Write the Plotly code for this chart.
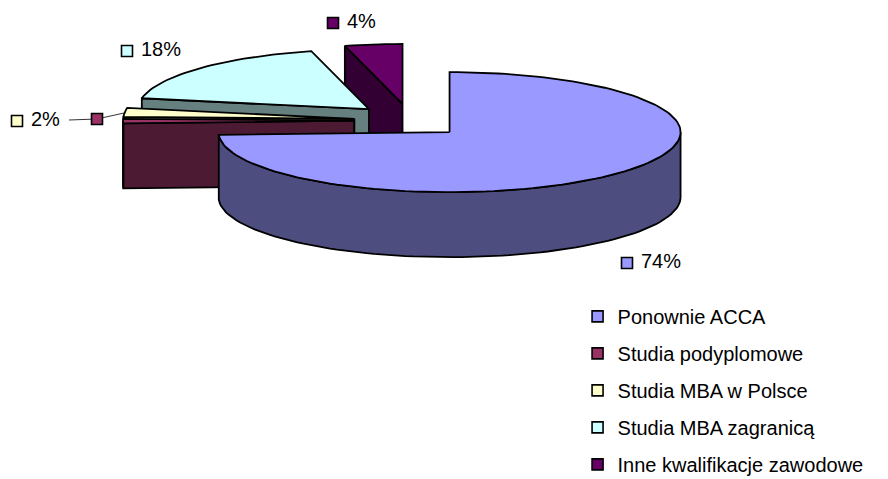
import math
import plotly.graph_objects as go

categories = ["Ponownie ACCA", "Studia podyplomowe", "Studia MBA w Polsce", "Studia MBA zagranicą", "Inne kwalifikacje zawodowe"]
values = [74, 1.2, 2.4, 18, 4]
labels = ["74%", "", "2%", "18%", "4%"]
top_colors = ["#9999FF", "#993366", "#FFFFCC", "#CCFFFF", "#660066"]
side_colors = ["#4D4D80", "#4D1A33", "#808066", "#668080", "#330033"]
label_pos = [(627, 263), (97, 119), (17, 121), (127, 51), (333, 23)]

CX, CY, RX, RY, DEPTH = 409.5, 120.6, 231, 60, 65
EX, EY = 0.24, 0.279
OFF = 8  # page margin: axes are shifted so that coordinates read as page pixels
FONT = "Liberation Sans"

fig = go.Figure()


def pt(ax, ay, a):
    t = math.radians(a)
    return ax + RX * math.sin(t), ay - RY * math.cos(t)


def poly(pts, color):
    fig.add_trace(go.Scatter(
        x=[p[0] for p in pts] + [pts[0][0]], y=[p[1] for p in pts] + [pts[0][1]],
        mode="lines", fill="toself", fillcolor=color,
        line=dict(color="black", width=1.8), showlegend=False, hoverinfo="skip"))


total = sum(values)
slices = []
start = 0.0
for i, v in enumerate(values):
    end = start + v / total * 360
    slices.append((i, start, end))
    start = end

# painted back to front
for i, a0, a1 in reversed(slices):
    mid = math.radians((a0 + a1) / 2)
    ax = CX + EX * RX * math.sin(mid)
    ay = CY - EY * RY * math.cos(mid)
    steps = max(3, int((a1 - a0) / 2))
    arc = [a0 + (a1 - a0) * k / steps for k in range(steps + 1)]
    e0, e1 = pt(ax, ay, a0), pt(ax, ay, a1)
    # radial walls that face the viewer
    if math.sin(math.radians(a0)) < -1e-6:
        poly([(ax, ay), e0, (e0[0], e0[1] + DEPTH), (ax, ay + DEPTH)], side_colors[i])
    if math.sin(math.radians(a1)) > 1e-6:
        poly([(ax, ay), e1, (e1[0], e1[1] + DEPTH), (ax, ay + DEPTH)], side_colors[i])
    # outer wall: front half only
    front = [a for a in arc if 90 <= a <= 270]
    if a0 < 90 < a1:
        front = [90] + front
    if a0 < 270 < a1:
        front = front + [270]
    if len(front) > 1:
        upper = [pt(ax, ay, a) for a in front]
        lower = [(x, y + DEPTH) for x, y in reversed(upper)]
        poly(upper + lower, side_colors[i])
    poly([(ax, ay)] + [pt(ax, ay, a) for a in arc], top_colors[i])

# leader line of the small slices
fig.add_trace(go.Scatter(x=[69, 97, 124], y=[120, 119, 113], mode="lines",
                         line=dict(color="black", width=0.8), showlegend=False, hoverinfo="skip"))

for i, (x, y) in enumerate(label_pos):
    fig.add_trace(go.Scatter(
        x=[x], y=[y], mode="markers",
        marker=dict(symbol="square", size=11, color=top_colors[i], line=dict(color="black", width=1.6)),
        showlegend=False, hoverinfo="skip"))
    if labels[i]:
        fig.add_trace(go.Scatter(
            x=[x + 14], y=[y], mode="text", text=[labels[i]], textposition="middle right",
            textfont=dict(family=FONT, size=20, color="black"),
            showlegend=False, hoverinfo="skip"))

for i, name in enumerate(categories):
    fig.add_trace(go.Scatter(
        x=[None], y=[None], mode="markers", name=name, legendgroup=name,
        marker=dict(symbol="square", size=11, color=top_colors[i], line=dict(color="black", width=1.6))))

fig.update_layout(
    width=888, height=479, margin=dict(l=0, r=0, t=0, b=0, autoexpand=False),
    paper_bgcolor="white", plot_bgcolor="white", showlegend=True,
    xaxis=dict(range=[OFF, 888 + OFF], visible=False, fixedrange=True),
    yaxis=dict(range=[479 + OFF, OFF], visible=False, fixedrange=True),
    legend=dict(x=0.6414, y=0.397, xanchor="left", yanchor="top", tracegroupgap=8,
                bgcolor="rgba(0,0,0,0)", itemwidth=30,
                font=dict(family=FONT, size=20, color="black")),
)
fig.write_html("out.html")
